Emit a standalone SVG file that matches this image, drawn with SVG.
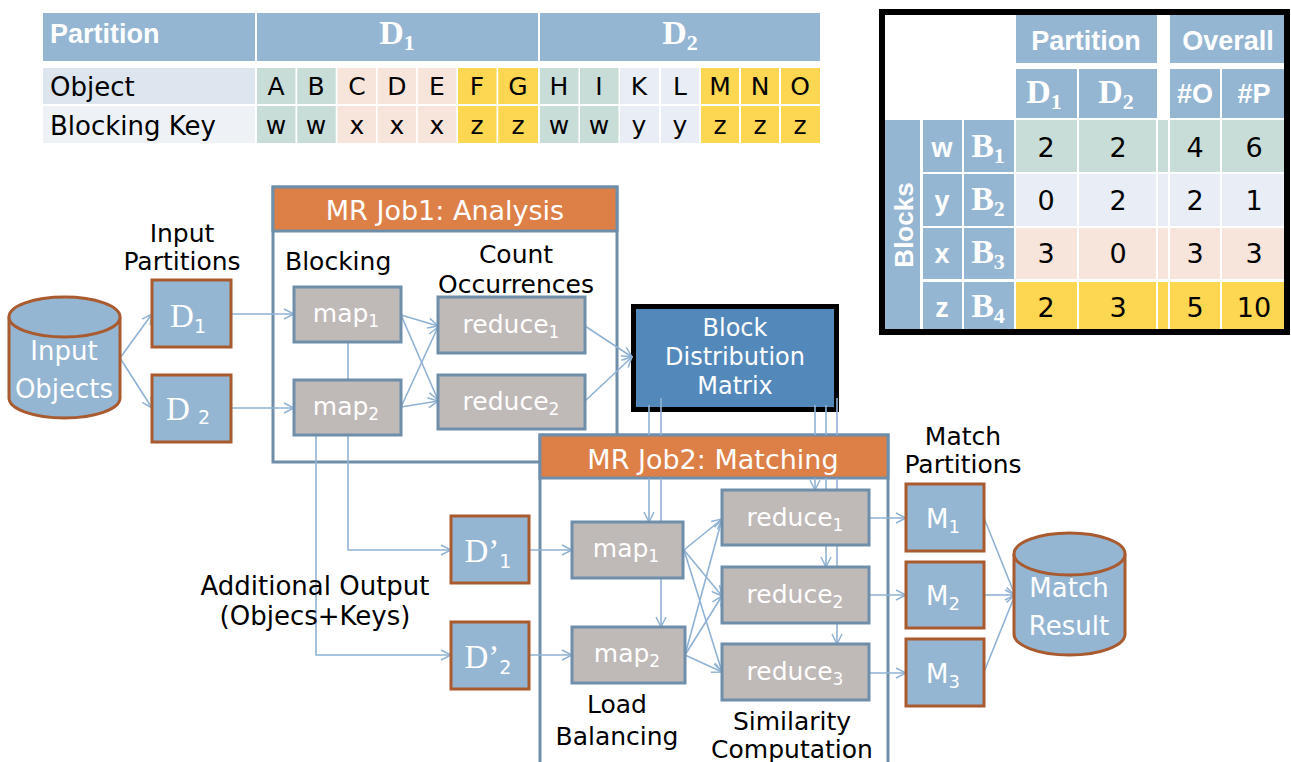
<svg xmlns="http://www.w3.org/2000/svg" width="1291" height="762" viewBox="0 0 1291 762">
  <defs>
    <style>
      .hdr { fill: #94B6D2; }
      .grn { fill: #C9DDD8; }
      .pch { fill: #F7E4DA; }
      .yel { fill: #FDD652; }
      .lbl { fill: #E9EEF6; }
      .t { font-family: "DejaVu Sans", "Liberation Sans", sans-serif; font-size: 25px; fill: #000; }
      .tw { font-family: "DejaVu Sans", "Liberation Sans", sans-serif; font-size: 24px; fill: #fff; }
      .hb { font-family: "Liberation Sans", Arial, sans-serif; font-weight: bold; font-size: 27px; fill: #fff; }
      .sb { font-family: "Liberation Serif", "Times New Roman", serif; font-weight: bold; font-size: 34px; fill: #fff; }
      .sr { font-family: "Liberation Serif", "Times New Roman", serif; font-size: 33px; fill: #fff; }
      .cell { font-family: "DejaVu Sans", "Liberation Sans", sans-serif; font-size: 25px; fill: #000; text-anchor: middle; }
      .num { font-family: "DejaVu Sans", "Liberation Sans", sans-serif; font-size: 27px; fill: #000; text-anchor: middle; }
      .mid { text-anchor: middle; }
      .f25 { font-size: 25px; }
      .f26 { font-size: 26px; }
      .f27 { font-size: 27px; }
      .part { fill: #94B6D2; stroke: #A95A2E; stroke-width: 3; }
      .task { fill: #BFB9B8; stroke: #6F8EAA; stroke-width: 3; }
      .job { fill: #fff; stroke: #6F8EAA; stroke-width: 3; }
      .jobh { fill: #DD8047; stroke: #6F8EAA; stroke-width: 3; }
      .con { fill: none; stroke: #8FB2D4; stroke-width: 1.6; }
    </style>
    <marker id="arr" viewBox="0 0 12 12" refX="11" refY="6" markerWidth="12" markerHeight="12" markerUnits="userSpaceOnUse" orient="auto">
      <path d="M1,1 L11,6 L1,11" fill="none" stroke="#8FB2D4" stroke-width="1.5"/>
    </marker>
  </defs>

  <!-- Partition / object / blocking key table -->
  <g id="key-table">
    <rect class="hdr" x="43" y="13" width="212" height="48"/>
    <rect class="hdr" x="257" y="13" width="281" height="48"/>
    <rect class="hdr" x="540" y="13" width="280" height="48"/>
    <text class="hb" x="50" y="43">Partition</text>
    <text class="sb mid" x="397" y="44">D<tspan font-size="22" dy="6">1</tspan></text>
    <text class="sb mid" x="680" y="44">D<tspan font-size="22" dy="6">2</tspan></text>

    <rect x="43" y="68" width="212" height="36" fill="#DDE5EE"/>
    <rect x="43" y="106" width="212" height="37" fill="#EEF2F7"/>
    <text class="t f26" x="50" y="96">Object</text>
    <text class="t f26" x="50" y="135">Blocking Key</text>

    <g id="cells">
      <rect class="grn" x="257" y="68" width="38.5" height="36"/><rect class="grn" x="257" y="106" width="38.5" height="37"/>
      <rect class="grn" x="297.2" y="68" width="38.5" height="36"/><rect class="grn" x="297.2" y="106" width="38.5" height="37"/>
      <rect class="pch" x="337.4" y="68" width="38.5" height="36"/><rect class="pch" x="337.4" y="106" width="38.5" height="37"/>
      <rect class="pch" x="377.6" y="68" width="38.5" height="36"/><rect class="pch" x="377.6" y="106" width="38.5" height="37"/>
      <rect class="pch" x="417.8" y="68" width="38.5" height="36"/><rect class="pch" x="417.8" y="106" width="38.5" height="37"/>
      <rect class="yel" x="458" y="68" width="38.5" height="36"/><rect class="yel" x="458" y="106" width="38.5" height="37"/>
      <rect class="yel" x="498.2" y="68" width="39.8" height="36"/><rect class="yel" x="498.2" y="106" width="39.8" height="37"/>
      <rect class="grn" x="540" y="68" width="38.5" height="36"/><rect class="grn" x="540" y="106" width="38.5" height="37"/>
      <rect class="grn" x="580" y="68" width="38.5" height="36"/><rect class="grn" x="580" y="106" width="38.5" height="37"/>
      <rect class="lbl" x="620" y="68" width="39" height="36"/><rect class="lbl" x="620" y="106" width="39" height="37"/>
      <rect class="lbl" x="661" y="68" width="38" height="36"/><rect class="lbl" x="661" y="106" width="38" height="37"/>
      <rect class="yel" x="701" y="68" width="38" height="36"/><rect class="yel" x="701" y="106" width="38" height="37"/>
      <rect class="yel" x="741" y="68" width="38" height="36"/><rect class="yel" x="741" y="106" width="38" height="37"/>
      <rect class="yel" x="781" y="68" width="39" height="36"/><rect class="yel" x="781" y="106" width="39" height="37"/>
    </g>
    <g id="cell-text">
      <text class="cell" x="276" y="95">A</text><text class="cell" x="276" y="134">w</text>
      <text class="cell" x="316" y="95">B</text><text class="cell" x="316" y="134">w</text>
      <text class="cell" x="357" y="95">C</text><text class="cell" x="357" y="134">x</text>
      <text class="cell" x="397" y="95">D</text><text class="cell" x="397" y="134">x</text>
      <text class="cell" x="437" y="95">E</text><text class="cell" x="437" y="134">x</text>
      <text class="cell" x="477" y="95">F</text><text class="cell" x="477" y="134">z</text>
      <text class="cell" x="518" y="95">G</text><text class="cell" x="518" y="134">z</text>
      <text class="cell" x="559" y="95">H</text><text class="cell" x="559" y="134">w</text>
      <text class="cell" x="599" y="95">I</text><text class="cell" x="599" y="134">w</text>
      <text class="cell" x="639" y="95">K</text><text class="cell" x="639" y="134">y</text>
      <text class="cell" x="680" y="95">L</text><text class="cell" x="680" y="134">y</text>
      <text class="cell" x="720" y="95">M</text><text class="cell" x="720" y="134">z</text>
      <text class="cell" x="760" y="95">N</text><text class="cell" x="760" y="134">z</text>
      <text class="cell" x="800" y="95">O</text><text class="cell" x="800" y="134">z</text>
    </g>
  </g>

  <!-- Block distribution matrix table -->
  <g id="bdm-table">
    <rect x="882" y="12" width="405" height="320" fill="#fff"/>
    <rect class="hdr" x="1016" y="15" width="141" height="48"/>
    <rect class="hdr" x="1170" y="15" width="117" height="48"/>
    <rect class="hdr" x="1016" y="69" width="61" height="49"/>
    <rect class="hdr" x="1079" y="69" width="78" height="49"/>
    <rect class="hdr" x="1170" y="69" width="50" height="49"/>
    <rect class="hdr" x="1222" y="69" width="65" height="49"/>
    <text class="hb mid" x="1086" y="50">Partition</text>
    <text class="hb mid" x="1228" y="50">Overall</text>
    <text class="sb mid" x="1044" y="103">D<tspan font-size="22" dy="6">1</tspan></text>
    <text class="sb mid" x="1116" y="103">D<tspan font-size="22" dy="6">2</tspan></text>
    <text class="hb mid" x="1195" y="103">#O</text>
    <text class="hb mid" x="1254" y="103">#P</text>

    <rect class="hdr" x="885" y="120" width="35" height="210"/>
    <text class="hb mid f26" transform="translate(913,225) rotate(-90)">Blocks</text>

    <!-- row w / B1 -->
    <rect class="hdr" x="923" y="120" width="39" height="52"/>
    <rect class="hdr" x="964" y="120" width="50" height="52"/>
    <rect class="grn" x="1016" y="120" width="61" height="52"/>
    <rect class="grn" x="1079" y="120" width="77" height="52"/>
    <rect class="grn" x="1158" y="120" width="10" height="52"/>
    <rect class="grn" x="1170" y="120" width="50" height="52"/>
    <rect class="grn" x="1222" y="120" width="65" height="52"/>
    <!-- row y / B2 -->
    <rect class="hdr" x="923" y="174" width="39" height="52"/>
    <rect class="hdr" x="964" y="174" width="50" height="52"/>
    <rect class="lbl" x="1016" y="174" width="61" height="52"/>
    <rect class="lbl" x="1079" y="174" width="77" height="52"/>
    <rect class="lbl" x="1158" y="174" width="10" height="52"/>
    <rect class="lbl" x="1170" y="174" width="50" height="52"/>
    <rect class="lbl" x="1222" y="174" width="65" height="52"/>
    <!-- row x / B3 -->
    <rect class="hdr" x="923" y="228" width="39" height="51"/>
    <rect class="hdr" x="964" y="228" width="50" height="51"/>
    <rect class="pch" x="1016" y="228" width="61" height="51"/>
    <rect class="pch" x="1079" y="228" width="77" height="51"/>
    <rect class="pch" x="1158" y="228" width="10" height="51"/>
    <rect class="pch" x="1170" y="228" width="50" height="51"/>
    <rect class="pch" x="1222" y="228" width="65" height="51"/>
    <!-- row z / B4 -->
    <rect class="hdr" x="923" y="282" width="39" height="48"/>
    <rect class="hdr" x="964" y="282" width="50" height="48"/>
    <rect class="yel" x="1016" y="282" width="61" height="48"/>
    <rect class="yel" x="1079" y="282" width="77" height="48"/>
    <rect class="yel" x="1158" y="282" width="10" height="48"/>
    <rect class="yel" x="1170" y="282" width="50" height="48"/>
    <rect class="yel" x="1222" y="282" width="65" height="48"/>

    <text class="hb mid" x="942" y="157">w</text>
    <text class="hb mid" x="942" y="210">y</text>
    <text class="hb mid" x="942" y="263">x</text>
    <text class="hb mid" x="942" y="317">z</text>
    <text class="sb mid" x="988" y="157">B<tspan font-size="22" dy="6">1</tspan></text>
    <text class="sb mid" x="988" y="210">B<tspan font-size="22" dy="6">2</tspan></text>
    <text class="sb mid" x="988" y="263">B<tspan font-size="22" dy="6">3</tspan></text>
    <text class="sb mid" x="988" y="317">B<tspan font-size="22" dy="6">4</tspan></text>

    <text class="num" x="1046" y="157">2</text><text class="num" x="1118" y="157">2</text><text class="num" x="1195" y="157">4</text><text class="num" x="1254" y="157">6</text>
    <text class="num" x="1046" y="210">0</text><text class="num" x="1118" y="210">2</text><text class="num" x="1195" y="210">2</text><text class="num" x="1254" y="210">1</text>
    <text class="num" x="1046" y="263">3</text><text class="num" x="1118" y="263">0</text><text class="num" x="1195" y="263">3</text><text class="num" x="1254" y="263">3</text>
    <text class="num" x="1046" y="317">2</text><text class="num" x="1118" y="317">3</text><text class="num" x="1195" y="317">5</text><text class="num" x="1254" y="317">10</text>

    <rect x="882" y="12" width="405" height="320" fill="none" stroke="#000" stroke-width="6"/>
  </g>

  <!-- MapReduce job containers -->
  <g id="job1">
    <rect class="job" x="273" y="187" width="344" height="275"/>
    <rect class="jobh" x="273" y="187" width="344" height="44"/>
    <text class="tw mid f27" x="445" y="220">MR Job1: Analysis</text>
  </g>
  <g id="job2">
    <rect class="job" x="540" y="435" width="348" height="340"/>
    <rect class="jobh" x="540" y="435" width="348" height="43"/>
    <text class="tw mid f27" x="713" y="469">MR Job2: Matching</text>
  </g>

  <g id="block-distribution-matrix">
    <rect x="633.5" y="306.5" width="203" height="103" fill="#5389BA" stroke="#000" stroke-width="5"/>
    <text class="tw mid" x="735" y="336">Block</text>
    <text class="tw mid" x="735" y="365">Distribution</text>
    <text class="tw mid" x="735" y="394">Matrix</text>
  </g>

  <!-- connectors -->
  <g id="connectors" class="con">
    <path marker-end="url(#arr)" d="M120,358 L152,314"/>
    <path marker-end="url(#arr)" d="M120,358 L152,408"/>
    <path marker-end="url(#arr)" d="M231,314 H294"/>
    <path marker-end="url(#arr)" d="M231,408 H294"/>
    <path marker-end="url(#arr)" d="M401,315 L438,326"/>
    <path marker-end="url(#arr)" d="M401,315 L438,400"/>
    <path marker-end="url(#arr)" d="M401,407 L438,327"/>
    <path marker-end="url(#arr)" d="M401,407 L438,401"/>
    <path marker-end="url(#arr)" d="M585,326 L632,357"/>
    <path marker-end="url(#arr)" d="M585,401 L632,357"/>
    <path marker-end="url(#arr)" d="M348,342 V550 H451"/>
    <path marker-end="url(#arr)" d="M316,435 V655 H451"/>
    <path marker-end="url(#arr)" d="M529,550 H572"/>
    <path marker-end="url(#arr)" d="M529,655 H572"/>
    <path marker-end="url(#arr)" d="M649,405 V435 M649,478 V522"/>
    <path marker-end="url(#arr)" d="M661,398 V435 M661,478 V522 M661,578 V627"/>
    <path marker-end="url(#arr)" d="M815,405 V435 M815,478 V490"/>
    <path marker-end="url(#arr)" d="M826,405 V435 M826,478 V567"/>
    <path marker-end="url(#arr)" d="M837,398 V435 M837,478 V644"/>
    <path marker-end="url(#arr)" d="M684,550 L722,519"/>
    <path marker-end="url(#arr)" d="M684,550 L722,596"/>
    <path marker-end="url(#arr)" d="M684,550 L722,672"/>
    <path marker-end="url(#arr)" d="M685,655 L722,519"/>
    <path marker-end="url(#arr)" d="M685,655 L722,596"/>
    <path marker-end="url(#arr)" d="M685,655 L722,672"/>
    <path marker-end="url(#arr)" d="M869,518 H906"/>
    <path marker-end="url(#arr)" d="M869,595 H906"/>
    <path marker-end="url(#arr)" d="M869,673 H906"/>
    <path marker-end="url(#arr)" d="M984,518 L1015,595"/>
    <path marker-end="url(#arr)" d="M984,595 L1015,595"/>
    <path marker-end="url(#arr)" d="M984,672 L1015,595"/>
  </g>

  <g id="input-objects">
    <path d="M9,317 V398 A55.5,20 0 0 0 120,398 V317" fill="#94B6D2" stroke="#A95A2E" stroke-width="3"/>
    <ellipse cx="64.5" cy="317" rx="55.5" ry="20" fill="#94B6D2" stroke="#A95A2E" stroke-width="3"/>
    <text class="tw mid f26" x="64" y="360">Input</text>
    <text class="tw mid f26" x="64" y="398">Objects</text>
  </g>

  <g id="input-partitions">
    <text class="t mid" x="182" y="242">Input</text>
    <text class="t mid" x="182" y="270">Partitions</text>
  </g>
  <g id="d1">
    <rect class="part" x="152" y="280" width="79" height="67"/>
    <text class="sr mid" x="188" y="327">D<tspan font-family="DejaVu Sans, sans-serif" font-size="19" dy="6">1</tspan></text>
  </g>
  <g id="d2">
    <rect class="part" x="152" y="375" width="79" height="67"/>
    <text class="sr mid" x="188" y="420">D <tspan font-family="DejaVu Sans, sans-serif" font-size="19" dy="4">2</tspan></text>
  </g>

  <g id="job1-labels">
    <text class="t" x="285" y="270">Blocking</text>
    <text class="t mid" x="516" y="263">Count</text>
    <text class="t mid" x="516" y="293">Occurrences</text>
  </g>
  <g id="job1-map1">
    <rect class="task" x="294" y="287" width="107" height="55"/>
    <text class="tw mid f25" x="346" y="322">map<tspan font-size="17" dy="5">1</tspan></text>
  </g>
  <g id="job1-map2">
    <rect class="task" x="294" y="380" width="107" height="55"/>
    <text class="tw mid f25" x="346" y="415">map<tspan font-size="17" dy="5">2</tspan></text>
  </g>
  <g id="job1-reduce1">
    <rect class="task" x="438" y="297" width="147" height="56"/>
    <text class="tw mid f25" x="511" y="333">reduce<tspan font-size="17" dy="5">1</tspan></text>
  </g>
  <g id="job1-reduce2">
    <rect class="task" x="438" y="375" width="147" height="54"/>
    <text class="tw mid f25" x="511" y="410">reduce<tspan font-size="17" dy="5">2</tspan></text>
  </g>

  <g id="additional-output">
    <text class="t mid f26" x="315" y="595">Additional Output</text>
    <text class="t mid f26" x="315" y="625">(Objecs+Keys)</text>
  </g>
  <g id="dp1">
    <rect class="part" x="451" y="516" width="78" height="67"/>
    <text class="sr mid" x="488" y="562">D’<tspan font-family="DejaVu Sans, sans-serif" font-size="19" dy="6">1</tspan></text>
  </g>
  <g id="dp2">
    <rect class="part" x="451" y="622" width="78" height="67"/>
    <text class="sr mid" x="488" y="668">D’<tspan font-family="DejaVu Sans, sans-serif" font-size="19" dy="6">2</tspan></text>
  </g>

  <g id="job2-map1">
    <rect class="task" x="572" y="522" width="111" height="56"/>
    <text class="tw mid f25" x="626" y="557">map<tspan font-size="17" dy="5">1</tspan></text>
  </g>
  <g id="job2-map2">
    <rect class="task" x="572" y="627" width="113" height="56"/>
    <text class="tw mid f25" x="627" y="662">map<tspan font-size="17" dy="5">2</tspan></text>
  </g>
  <g id="job2-reduce1">
    <rect class="task" x="722" y="490" width="147" height="55"/>
    <text class="tw mid f25" x="795" y="526">reduce<tspan font-size="17" dy="5">1</tspan></text>
  </g>
  <g id="job2-reduce2">
    <rect class="task" x="722" y="567" width="147" height="56"/>
    <text class="tw mid f25" x="795" y="603">reduce<tspan font-size="17" dy="5">2</tspan></text>
  </g>
  <g id="job2-reduce3">
    <rect class="task" x="722" y="644" width="147" height="56"/>
    <text class="tw mid f25" x="795" y="680">reduce<tspan font-size="17" dy="5">3</tspan></text>
  </g>
  <g id="job2-labels">
    <text class="t mid" x="617" y="713">Load</text>
    <text class="t mid" x="617" y="745">Balancing</text>
    <text class="t mid" x="792" y="730">Similarity</text>
    <text class="t mid" x="792" y="758">Computation</text>
  </g>

  <g id="match-partitions">
    <text class="t mid" x="963" y="445">Match</text>
    <text class="t mid" x="963" y="473">Partitions</text>
  </g>
  <g id="m1">
    <rect class="part" x="906" y="484" width="78" height="67"/>
    <text class="tw mid f26" x="943" y="528">M<tspan font-size="18" dy="5">1</tspan></text>
  </g>
  <g id="m2">
    <rect class="part" x="906" y="562" width="78" height="66"/>
    <text class="tw mid f26" x="943" y="605">M<tspan font-size="18" dy="5">2</tspan></text>
  </g>
  <g id="m3">
    <rect class="part" x="906" y="639" width="78" height="67"/>
    <text class="tw mid f26" x="943" y="683">M<tspan font-size="18" dy="5">3</tspan></text>
  </g>

  <g id="match-result">
    <path d="M1014,554 V634 A55.5,21 0 0 0 1125,634 V554" fill="#94B6D2" stroke="#A95A2E" stroke-width="3"/>
    <ellipse cx="1069.5" cy="554" rx="55.5" ry="21" fill="#94B6D2" stroke="#A95A2E" stroke-width="3"/>
    <text class="tw mid f26" x="1069" y="597">Match</text>
    <text class="tw mid f26" x="1069" y="635">Result</text>
  </g>
</svg>
